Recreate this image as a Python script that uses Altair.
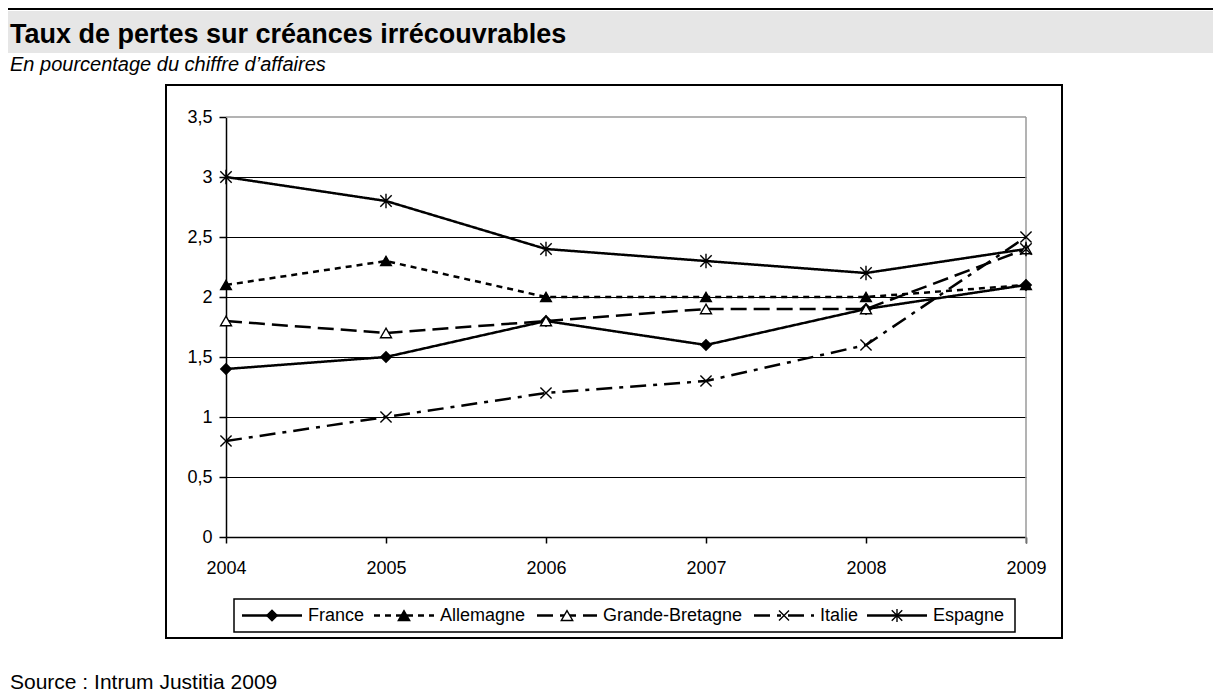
import altair as alt
import pandas as pd

# ---- data ----
years = ["2004", "2005", "2006", "2007", "2008", "2009"]
series = ["France", "Allemagne", "Grande-Bretagne", "Italie", "Espagne"]
france = [1.4, 1.5, 1.8, 1.6, 1.9, 2.1]
allemagne = [2.1, 2.3, 2.0, 2.0, 2.0, 2.1]
grande_bretagne = [1.8, 1.7, 1.8, 1.9, 1.9, 2.4]
italie = [0.8, 1.0, 1.2, 1.3, 1.6, 2.5]
espagne = [3.0, 2.8, 2.4, 2.3, 2.2, 2.4]
y_ticks = [0, 0.5, 1, 1.5, 2, 2.5, 3, 3.5]

title_text = "Taux de pertes sur créances irrécouvrables"
subtitle_text = "En pourcentage du chiffre d’affaires"
source_text = "Source : Intrum Justitia 2009"

values = [france, allemagne, grande_bretagne, italie, espagne]
rows = []
for s, vals in zip(series, values):
    for y, v in zip(years, vals):
        rows.append({"annee": y, "serie": s, "valeur": v})
df = pd.DataFrame(rows)

# ---- styles ----
FONT = "Liberation Sans"
X_PATH = "M-1,-1L1,1M-1,1L1,-1"
AST_PATH = "M-1,-1L1,1M-1,1L1,-1M0,-1.25L0,1.25"
dashes = [[1, 0], [6, 5], [16, 7], [16, 7, 4, 7], [1, 0]]
shapes = ["diamond", "triangle-up", "triangle-up", X_PATH, AST_PATH]
fills = ["black", "black", "white", "transparent", "transparent"]
sizes = [110, 130, 130, 100, 110]

W, H = 800, 420
OX, OY = 226, 117  # page position of plot origin


def X(p):
    return p - OX


def Y(p):
    return p - OY


one = pd.DataFrame({"k": [0]})


def deco():
    return alt.Chart(one)


layers = []

# header line and grey band
layers.append(deco().mark_rect(fill="#e6e6e6").encode(
    x=alt.value(X(8)), x2=alt.value(X(1213)), y=alt.value(Y(11)), y2=alt.value(Y(53))))
layers.append(deco().mark_rule(stroke="black", strokeWidth=2).encode(
    x=alt.value(X(8)), x2=alt.value(X(1213)), y=alt.value(Y(9))))
layers.append(deco().mark_text(text=title_text, align="left", baseline="alphabetic",
                               font=FONT, fontSize=27, fontWeight="bold", color="black").encode(
    x=alt.value(X(10)), y=alt.value(Y(43))))
layers.append(deco().mark_text(text=subtitle_text, align="left", baseline="alphabetic",
                               font=FONT, fontSize=20, fontStyle="italic", color="black").encode(
    x=alt.value(X(10)), y=alt.value(Y(71))))
layers.append(deco().mark_text(text=source_text, align="left", baseline="alphabetic",
                               font=FONT, fontSize=21, color="black").encode(
    x=alt.value(X(10)), y=alt.value(Y(689))))

# chart frame
layers.append(deco().mark_rect(fill="transparent", stroke="black", strokeWidth=2).encode(
    x=alt.value(X(166)), x2=alt.value(X(1062)), y=alt.value(Y(85)), y2=alt.value(Y(638))))

# grey plot-area border (top and right)
layers.append(deco().mark_rule(stroke="#9a9a9a", strokeWidth=1.5).encode(
    x=alt.value(0), x2=alt.value(W), y=alt.value(0)))
layers.append(deco().mark_rule(stroke="#9a9a9a", strokeWidth=1.5).encode(
    x=alt.value(W), y=alt.value(0), y2=alt.value(H + 6)))

x_enc = alt.X("annee:O", sort=years, scale=alt.Scale(type="point", padding=0),
              axis=alt.Axis(title=None, labelAngle=0, grid=False, domainColor="black",
                            domainWidth=1.5, tickColor="black", tickSize=6, tickWidth=1.5,
                            labelPadding=16, labelFont=FONT, labelFontSize=18,
                            labelColor="black"))
y_enc = alt.Y("valeur:Q", scale=alt.Scale(domain=[0, 3.5], nice=False, zero=True),
              axis=alt.Axis(title=None, values=y_ticks,
                            labelExpr="replace(toString(datum.value), '.', ',')",
                            grid=True,
                            gridColor={"condition": {"test": "datum.value >= 3.5 || datum.value == 0",
                                                     "value": "transparent"},
                                       "value": "black"},
                            gridWidth=1, domainColor="black", domainWidth=1.5,
                            tickColor="black", tickSize=7, tickWidth=1.5,
                            labelPadding=7, labelFont=FONT, labelFontSize=18,
                            labelColor="black"))

lines = alt.Chart(df).mark_line(color="black", strokeWidth=2.5, strokeCap="butt").encode(
    x=x_enc, y=y_enc,
    strokeDash=alt.StrokeDash("serie:N", scale=alt.Scale(domain=series, range=dashes), legend=None),
    detail="serie:N",
)
points = alt.Chart(df).mark_point(stroke="black", strokeWidth=1.4, opacity=1, fillOpacity=1).encode(
    x=alt.X("annee:O", sort=years),
    y=alt.Y("valeur:Q"),
    shape=alt.Shape("serie:N", scale=alt.Scale(domain=series, range=shapes), legend=None),
    fill=alt.Fill("serie:N", scale=alt.Scale(domain=series, range=fills), legend=None),
    size=alt.Size("serie:N", scale=alt.Scale(domain=series, range=sizes), legend=None),
)
layers.append(lines)
layers.append(points)

# legend (drawn by hand, Excel style)
LY = 615.5
layers.append(deco().mark_rect(fill="white", stroke="black", strokeWidth=1.5).encode(
    x=alt.value(X(234)), x2=alt.value(X(1015)), y=alt.value(Y(599)), y2=alt.value(Y(632))))
starts = [242, 374, 537, 754, 867]
for i, s in enumerate(series):
    x0 = starts[i]
    layers.append(deco().mark_rule(stroke="black", strokeWidth=2.5, strokeDash=dashes[i],
                                   strokeCap="butt").encode(
        x=alt.value(X(x0)), x2=alt.value(X(x0 + 60)), y=alt.value(Y(LY))))
    layers.append(deco().mark_point(shape=shapes[i], size=sizes[i], fill=fills[i], stroke="black",
                                    strokeWidth=1.4, opacity=1, fillOpacity=1).encode(
        x=alt.value(X(x0 + 30)), y=alt.value(Y(LY))))
    layers.append(deco().mark_text(text=s, align="left", baseline="middle", font=FONT,
                                   fontSize=18, color="black").encode(
        x=alt.value(X(x0 + 66)), y=alt.value(Y(LY))))

chart = alt.layer(*layers).properties(
    width=W, height=H,
    autosize=alt.AutoSizeParams(type="none"),
    padding={"left": OX - 8, "top": OY - 8, "right": 1205 - (OX - 8) - W, "bottom": 684 - (OY - 8) - H},
).configure_view(stroke=None)

chart.save("out.html", embed_options={"renderer": "svg", "actions": False})
